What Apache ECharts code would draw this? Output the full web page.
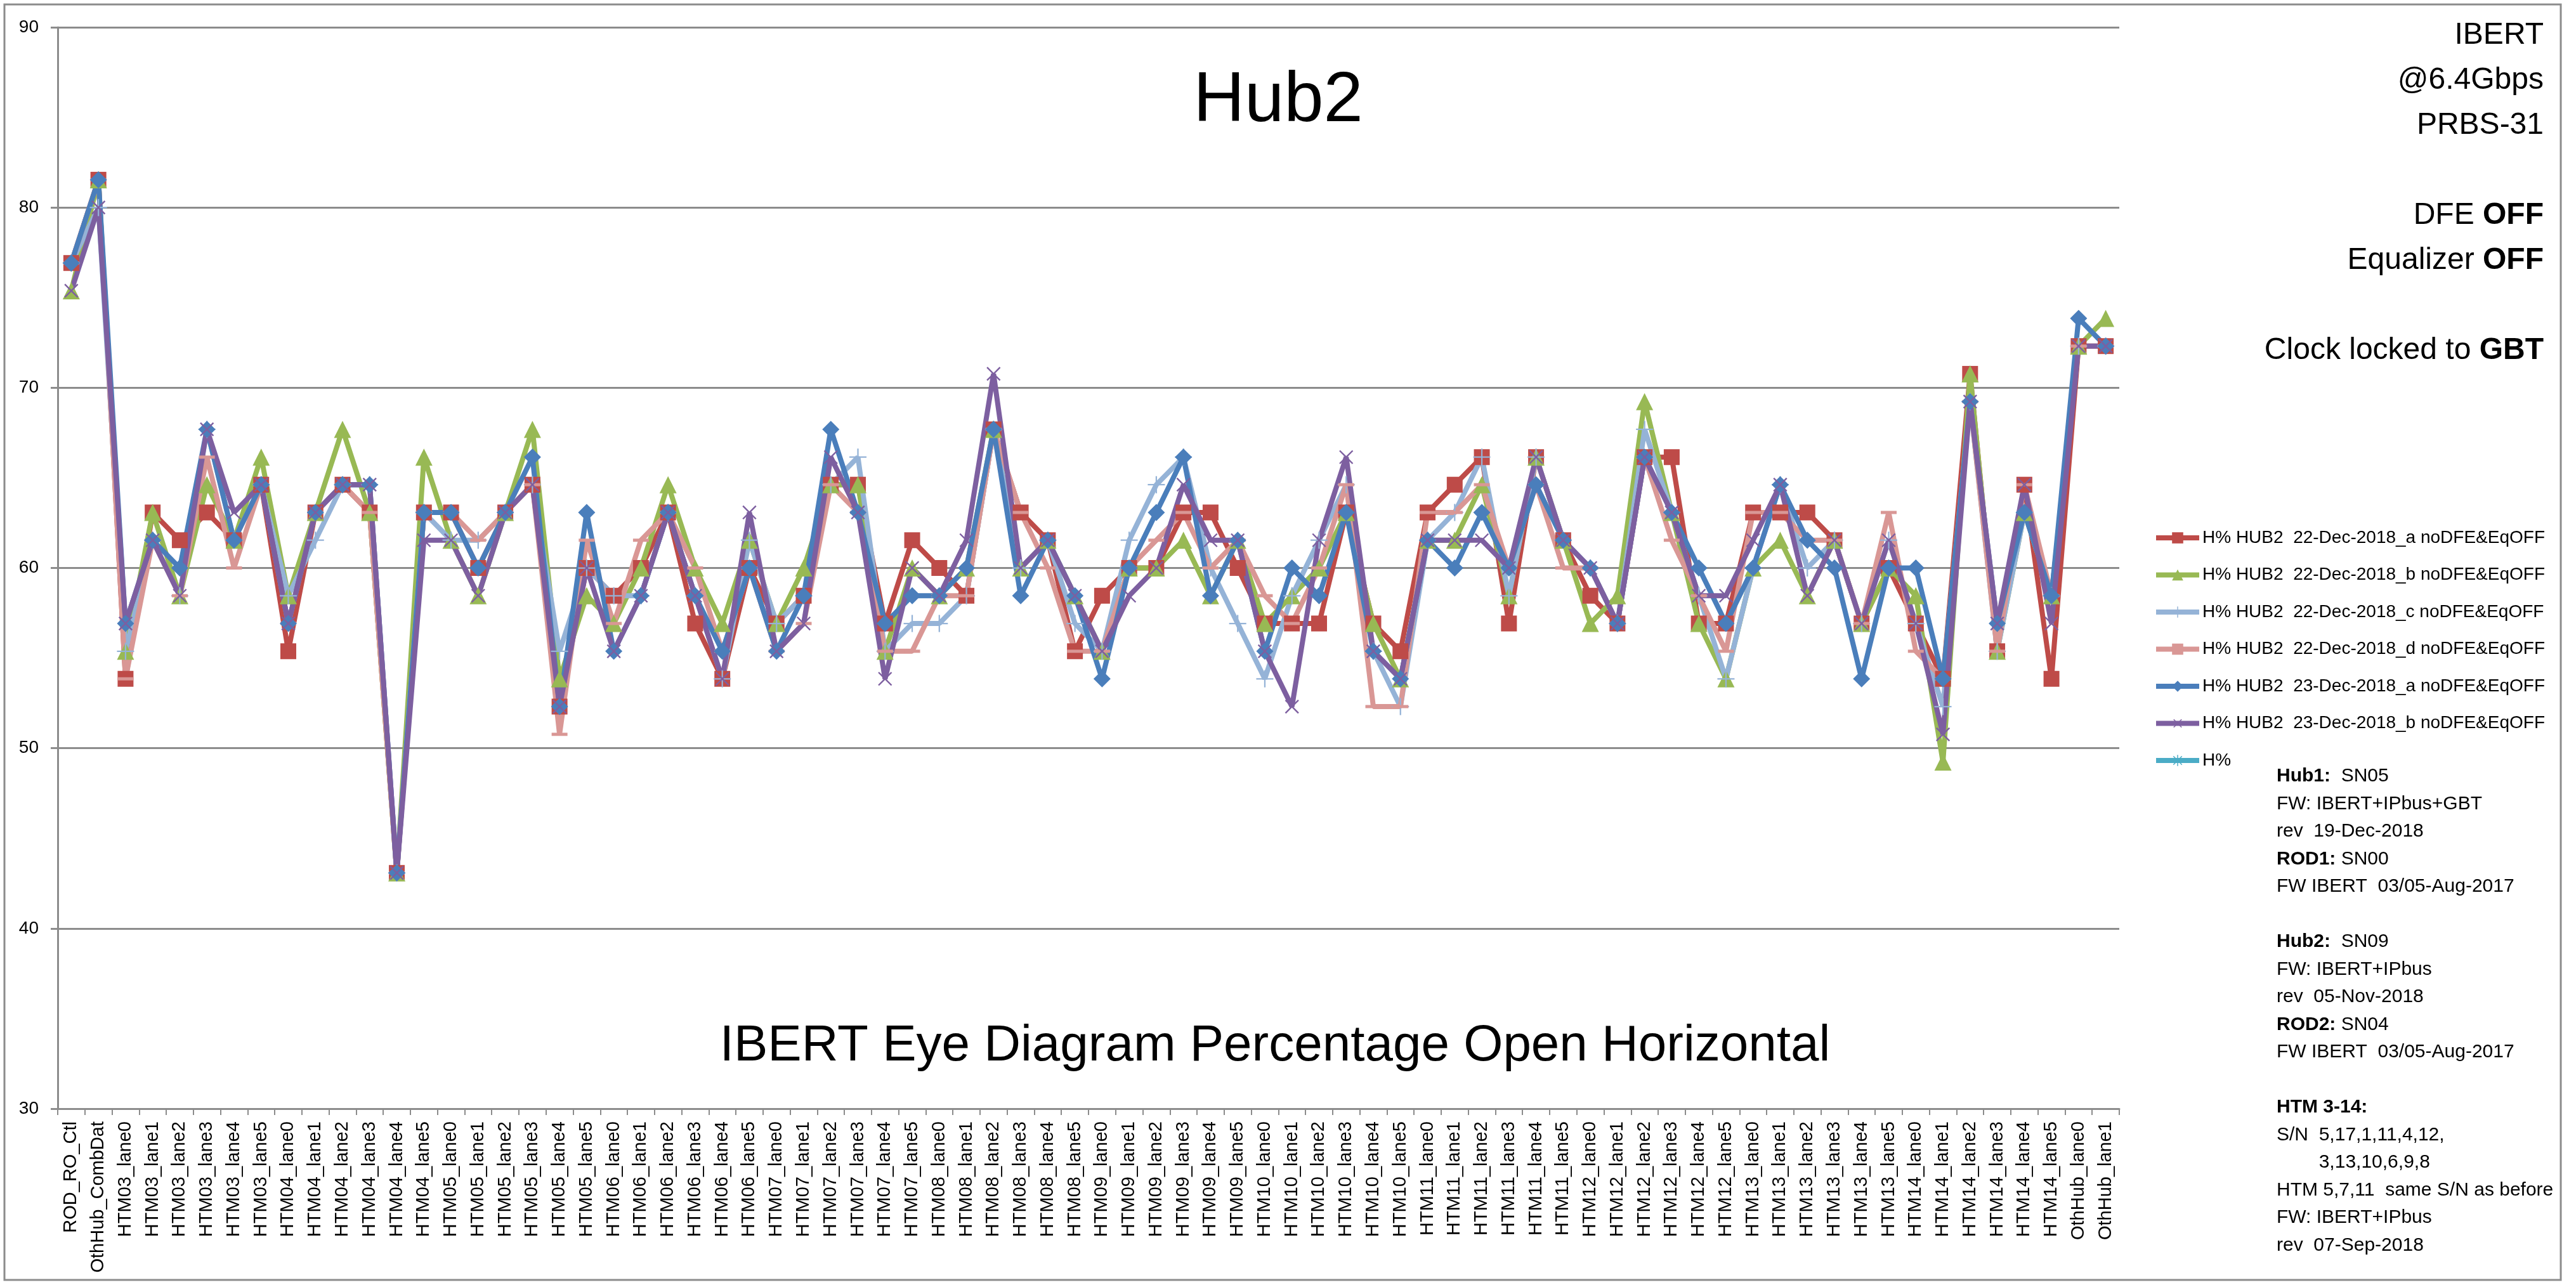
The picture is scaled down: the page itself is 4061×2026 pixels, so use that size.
<!DOCTYPE html>
<html>
<head>
<meta charset="utf-8">
<title>Hub2</title>
<script src="https://cdn.jsdelivr.net/npm/echarts@6/dist/echarts.min.js"></script>
<style>
    html, body { margin: 0; padding: 0; background: #fff; }
    #main { width: 4061px; height: 2026px; }
</style>
</head>
<body>
<div id="main"></div>
<script>
var categories = [
    'ROD_RO_Ctl', 'OthHub_CombDat',
    'HTM03_lane0', 'HTM03_lane1', 'HTM03_lane2', 'HTM03_lane3', 'HTM03_lane4', 'HTM03_lane5',
    'HTM04_lane0', 'HTM04_lane1', 'HTM04_lane2', 'HTM04_lane3', 'HTM04_lane4', 'HTM04_lane5',
    'HTM05_lane0', 'HTM05_lane1', 'HTM05_lane2', 'HTM05_lane3', 'HTM05_lane4', 'HTM05_lane5',
    'HTM06_lane0', 'HTM06_lane1', 'HTM06_lane2', 'HTM06_lane3', 'HTM06_lane4', 'HTM06_lane5',
    'HTM07_lane0', 'HTM07_lane1', 'HTM07_lane2', 'HTM07_lane3', 'HTM07_lane4', 'HTM07_lane5',
    'HTM08_lane0', 'HTM08_lane1', 'HTM08_lane2', 'HTM08_lane3', 'HTM08_lane4', 'HTM08_lane5',
    'HTM09_lane0', 'HTM09_lane1', 'HTM09_lane2', 'HTM09_lane3', 'HTM09_lane4', 'HTM09_lane5',
    'HTM10_lane0', 'HTM10_lane1', 'HTM10_lane2', 'HTM10_lane3', 'HTM10_lane4', 'HTM10_lane5',
    'HTM11_lane0', 'HTM11_lane1', 'HTM11_lane2', 'HTM11_lane3', 'HTM11_lane4', 'HTM11_lane5',
    'HTM12_lane0', 'HTM12_lane1', 'HTM12_lane2', 'HTM12_lane3', 'HTM12_lane4', 'HTM12_lane5',
    'HTM13_lane0', 'HTM13_lane1', 'HTM13_lane2', 'HTM13_lane3', 'HTM13_lane4', 'HTM13_lane5',
    'HTM14_lane0', 'HTM14_lane1', 'HTM14_lane2', 'HTM14_lane3', 'HTM14_lane4', 'HTM14_lane5',
    'OthHub_lane0', 'OthHub_lane1'
];

var seriesNames = [
    'H% HUB2  22-Dec-2018_a noDFE&EqOFF',
    'H% HUB2  22-Dec-2018_b noDFE&EqOFF',
    'H% HUB2  22-Dec-2018_c noDFE&EqOFF',
    'H% HUB2  22-Dec-2018_d noDFE&EqOFF',
    'H% HUB2  23-Dec-2018_a noDFE&EqOFF',
    'H% HUB2  23-Dec-2018_b noDFE&EqOFF',
    'H%'
];

// 22-Dec-2018_a
var dec22a = [
    76.92, 81.54,
    53.85, 63.08, 61.54, 63.08, 61.54, 64.62,
    55.38, 63.08, 64.62, 63.08, 43.08, 63.08,
    63.08, 60.00, 63.08, 64.62, 52.31, 60.00,
    58.46, 60.00, 63.08, 56.92, 53.85, 60.00,
    56.92, 58.46, 64.62, 64.62, 56.92, 61.54,
    60.00, 58.46, 67.69, 63.08, 61.54, 55.38,
    58.46, 60.00, 60.00, 63.08, 63.08, 60.00,
    56.92, 56.92, 56.92, 63.08, 56.92, 55.38,
    63.08, 64.62, 66.15, 56.92, 66.15, 61.54,
    58.46, 56.92, 66.15, 66.15, 56.92, 56.92,
    63.08, 63.08, 63.08, 61.54, 56.92, 60.00,
    56.92, 53.85, 70.77, 55.38, 64.62, 53.85,
    72.31, 72.31
];
// 22-Dec-2018_b
var dec22b = [
    75.38, 81.54,
    55.38, 63.08, 58.46, 64.62, 61.54, 66.15,
    58.46, 63.08, 67.69, 63.08, 43.08, 66.15,
    61.54, 58.46, 63.08, 67.69, 53.85, 58.46,
    56.92, 60.00, 64.62, 60.00, 56.92, 61.54,
    56.92, 60.00, 64.62, 64.62, 55.38, 60.00,
    58.46, 60.00, 67.69, 60.00, 61.54, 58.46,
    55.38, 60.00, 60.00, 61.54, 58.46, 61.54,
    56.92, 58.46, 60.00, 63.08, 56.92, 53.85,
    61.54, 61.54, 64.62, 58.46, 66.15, 61.54,
    56.92, 58.46, 69.23, 63.08, 56.92, 53.85,
    60.00, 61.54, 58.46, 61.54, 56.92, 60.00,
    58.46, 49.23, 70.77, 55.38, 63.08, 58.46,
    72.31, 73.85
];
// 22-Dec-2018_c
var dec22c = [
    76.92, 80.00,
    55.38, 61.54, 58.46, 67.69, 61.54, 64.62,
    58.46, 61.54, 64.62, 64.62, 43.08, 63.08,
    61.54, 61.54, 63.08, 64.62, 55.38, 60.00,
    58.46, 58.46, 63.08, 58.46, 53.85, 61.54,
    56.92, 58.46, 64.62, 66.15, 55.38, 56.92,
    56.92, 58.46, 67.69, 60.00, 61.54, 56.92,
    55.38, 61.54, 64.62, 66.15, 60.00, 56.92,
    53.85, 58.46, 61.54, 64.62, 55.38, 52.31,
    61.54, 63.08, 66.15, 58.46, 66.15, 61.54,
    60.00, 56.92, 67.69, 63.08, 58.46, 53.85,
    60.00, 64.62, 60.00, 61.54, 56.92, 61.54,
    56.92, 52.31, 69.23, 55.38, 63.08, 58.46,
    72.31, 72.31
];
// 22-Dec-2018_d
var dec22d = [
    76.92, 81.54,
    53.85, 61.54, 58.46, 66.15, 60.00, 64.62,
    56.92, 63.08, 64.62, 63.08, 43.08, 63.08,
    63.08, 61.54, 63.08, 64.62, 50.77, 61.54,
    56.92, 61.54, 63.08, 60.00, 55.38, 60.00,
    55.38, 56.92, 64.62, 63.08, 55.38, 55.38,
    58.46, 58.46, 67.69, 63.08, 60.00, 55.38,
    55.38, 60.00, 61.54, 63.08, 60.00, 61.54,
    58.46, 56.92, 60.00, 64.62, 52.31, 52.31,
    63.08, 63.08, 64.62, 60.00, 64.62, 60.00,
    60.00, 56.92, 66.15, 61.54, 58.46, 55.38,
    63.08, 63.08, 61.54, 61.54, 56.92, 63.08,
    55.38, 53.85, 69.23, 55.38, 64.62, 58.46,
    72.31, 72.31
];
// 23-Dec-2018_a
var dec23a = [
    76.92, 81.54,
    56.92, 61.54, 60.00, 67.69, 61.54, 64.62,
    56.92, 63.08, 64.62, 64.62, 43.08, 63.08,
    63.08, 60.00, 63.08, 66.15, 52.31, 63.08,
    55.38, 58.46, 63.08, 58.46, 55.38, 60.00,
    55.38, 58.46, 67.69, 63.08, 56.92, 58.46,
    58.46, 60.00, 67.69, 58.46, 61.54, 58.46,
    53.85, 60.00, 63.08, 66.15, 58.46, 61.54,
    55.38, 60.00, 58.46, 63.08, 55.38, 53.85,
    61.54, 60.00, 63.08, 60.00, 64.62, 61.54,
    60.00, 56.92, 66.15, 63.08, 60.00, 56.92,
    60.00, 64.62, 61.54, 60.00, 53.85, 60.00,
    60.00, 53.85, 69.23, 56.92, 63.08, 58.46,
    73.85, 72.31
];
// 23-Dec-2018_b
var dec23b = [
    75.38, 80.00,
    56.92, 61.54, 58.46, 67.69, 63.08, 64.62,
    56.92, 63.08, 64.62, 64.62, 43.08, 61.54,
    61.54, 58.46, 63.08, 64.62, 52.31, 60.00,
    55.38, 58.46, 63.08, 58.46, 53.85, 63.08,
    55.38, 56.92, 66.15, 63.08, 53.85, 60.00,
    58.46, 61.54, 70.77, 60.00, 61.54, 58.46,
    55.38, 58.46, 60.00, 64.62, 61.54, 61.54,
    55.38, 52.31, 61.54, 66.15, 55.38, 53.85,
    61.54, 61.54, 61.54, 60.00, 66.15, 61.54,
    60.00, 56.92, 66.15, 63.08, 58.46, 58.46,
    61.54, 64.62, 58.46, 61.54, 56.92, 61.54,
    56.92, 50.77, 69.23, 56.92, 64.62, 56.92,
    72.31, 72.31
];
// H% (legend entry only, no points visible)
var hPercent = categories.map(function () { return null; });

var FONT = '"Liberation Sans", Arial, sans-serif';
var GRID_COLOR = '#8c8c8c';

var PLUS = 'path://M11,0H13V11H24V13H13V24H11V13H0V11H11Z';
var STAR = 'path://M11,0H13V11H24V13H13V24H11V13H0V11H11Z' +
    'M3.5,2.1L12,10.6L20.5,2.1L21.9,3.5L13.4,12L21.9,20.5L20.5,21.9L12,13.4L3.5,21.9L2.1,20.5L10.6,12L2.1,3.5Z';

function lineSeries(name, data, color, symbol, size, rotate) {
    return {
        name: name,
        type: 'line',
        data: data,
        symbol: symbol,
        symbolSize: size,
        symbolRotate: rotate || 0,
        showAllSymbol: true,
        lineStyle: { color: color, width: 8 },
        itemStyle: { color: color },
        emphasis: { disabled: true }
    };
}

var myChart = echarts.init(document.getElementById('main'), null, { renderer: 'canvas' });

var rightLines = ['IBERT', '@6.4Gbps', 'PRBS-31', '', 'DFE {b|OFF}', 'Equalizer {b|OFF}', '', 'Clock locked to {b|GBT}'];
var noteLines = [
    '{b|Hub1:}  SN05',
    'FW: IBERT+IPbus+GBT',
    'rev  19-Dec-2018',
    '{b|ROD1:} SN00',
    'FW IBERT  03/05-Aug-2017',
    '',
    '{b|Hub2:}  SN09',
    'FW: IBERT+IPbus',
    'rev  05-Nov-2018',
    '{b|ROD2:} SN04',
    'FW IBERT  03/05-Aug-2017',
    '',
    '{b|HTM 3-14:}',
    'S/N  5,17,1,11,4,12,',
    '        3,13,10,6,9,8',
    'HTM 5,7,11  same S/N as before',
    'FW: IBERT+IPbus',
    'rev  07-Sep-2018'
];

var graphics = [
    {
        type: 'rect', z: -10,
        shape: { x: 7, y: 7, width: 4030, height: 2011 },
        style: { fill: '#fff', stroke: GRID_COLOR, lineWidth: 3 }
    },
    {
        type: 'text', x: 2015, y: 160,
        style: { text: 'Hub2', fontSize: 112, fontFamily: FONT, fill: '#000', align: 'center', verticalAlign: 'middle' }
    },
    {
        type: 'text', x: 2010, y: 1650,
        style: { text: 'IBERT Eye Diagram Percentage Open Horizontal', fontSize: 80, fontFamily: FONT, fill: '#000', align: 'center', verticalAlign: 'middle' }
    }
];
rightLines.forEach(function (t, i) {
    if (!t) return;
    graphics.push({
        type: 'text', x: 4010, y: 56 + i * 71,
        style: {
            text: t, fontSize: 48, fontFamily: FONT, fill: '#000', align: 'right', verticalAlign: 'middle',
            rich: { b: { fontSize: 48, fontFamily: FONT, fontWeight: 'bold', fill: '#000' } }
        }
    });
});
noteLines.forEach(function (t, i) {
    if (!t) return;
    graphics.push({
        type: 'text', x: 3589, y: 1224 + i * 43.5,
        style: {
            text: t, fontSize: 30, fontFamily: FONT, fill: '#000', align: 'left', verticalAlign: 'middle',
            rich: { b: { fontSize: 30, fontFamily: FONT, fontWeight: 'bold', fill: '#000' } }
        }
    });
});

var option = {
    animation: false,
    backgroundColor: '#fff',
    grid: {
        left: 91,
        right: 720,
        top: 43,
        bottom: 278
    },
    legend: {
        orient: 'vertical',
        left: 3390,
        top: 829,
        itemWidth: 68,
        itemHeight: 22,
        itemGap: 30.5,
        lineStyle: { width: 8 },
        textStyle: { fontSize: 28, fontFamily: FONT, color: '#000' },
        data: seriesNames
    },
    xAxis: {
        type: 'category',
        data: categories,
        boundaryGap: true,
        axisLine: { lineStyle: { color: GRID_COLOR, width: 3 } },
        axisTick: { show: true, length: 10, lineStyle: { color: GRID_COLOR, width: 2 } },
        axisLabel: {
            interval: 0,
            rotate: 90,
            margin: 20,
            fontSize: 29,
            fontFamily: FONT,
            color: '#000'
        }
    },
    yAxis: {
        type: 'value',
        min: 30,
        max: 90,
        interval: 10,
        axisLine: { show: true, lineStyle: { color: GRID_COLOR, width: 3 } },
        axisTick: { show: true, length: 11, lineStyle: { color: GRID_COLOR, width: 3 } },
        splitLine: { lineStyle: { color: GRID_COLOR, width: 3 } },
        axisLabel: { margin: 30, fontSize: 28, fontFamily: FONT, color: '#000' }
    },
    graphic: graphics,
    series: [
        lineSeries(seriesNames[0], dec22a, '#BE4B48', 'rect', 25),
        lineSeries(seriesNames[1], dec22b, '#98B954', 'triangle', 27),
        lineSeries(seriesNames[2], dec22c, '#95B3D7', PLUS, 27),
        lineSeries(seriesNames[3], dec22d, '#D99795', 'rect', [25, 5]),
        lineSeries(seriesNames[4], dec23a, '#4A7EBB', 'diamond', 27),
        lineSeries(seriesNames[5], dec23b, '#7D5FA0', PLUS, 29, 45),
        lineSeries(seriesNames[6], hPercent, '#4BACC6', STAR, 27)
    ]
};
myChart.setOption(option);
</script>
</body>
</html>
